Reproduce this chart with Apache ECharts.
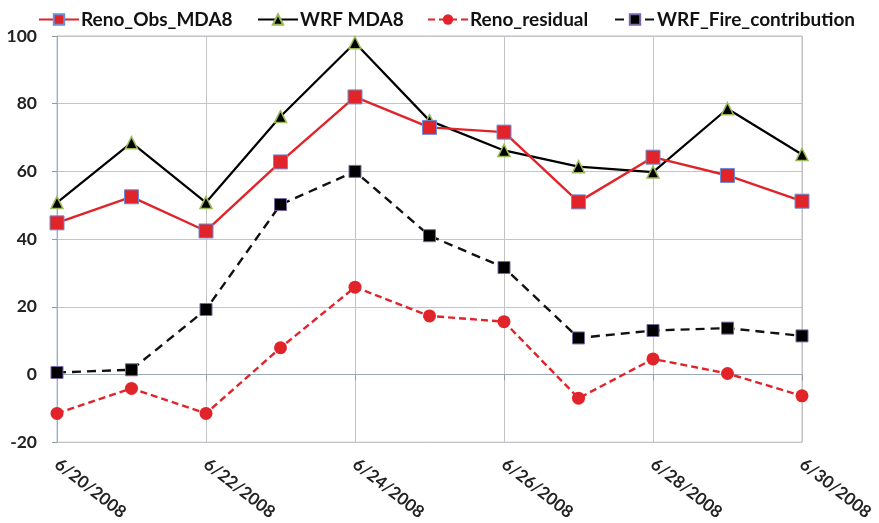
<!DOCTYPE html>
<html><head><meta charset="utf-8">
<script src="https://cdn.jsdelivr.net/npm/echarts@6/dist/echarts.min.js"></script>
<style>html,body{margin:0;padding:0;background:#fff}#c{width:879px;height:523px}</style>
</head><body><div id="c"></div>
<script>
const dates = ['6/20/2008','6/21/2008','6/22/2008','6/23/2008','6/24/2008','6/25/2008','6/26/2008','6/27/2008','6/28/2008','6/29/2008','6/30/2008'];
const seriesNames = ['Reno_Obs_MDA8','WRF MDA8','Reno_residual','WRF_Fire_contribution'];
const renoObs = [44.8, 52.5, 42.4, 62.8, 82.0, 73.0, 71.6, 51.0, 64.2, 58.8, 51.2];
const wrfMda8 = [50.8, 68.5, 50.8, 76.2, 98.0, 75.0, 66.2, 61.4, 59.8, 78.5, 65.0];
const renoResidual = [-11.5, -4.1, -11.5, 7.9, 25.8, 17.3, 15.6, -7.0, 4.6, 0.3, -6.3];
const wrfFire = [0.6, 1.4, 19.2, 50.2, 60.0, 41.0, 31.6, 10.8, 13.0, 13.7, 11.4];

const FONT = 'Lato';
const legendLefts = [38, 257, 427, 614];
const chart = echarts.init(document.getElementById('c'));
chart.setOption({
  animation: false,
  legend: seriesNames.map((n, i) => ({
    top: 10, left: legendLefts[i], itemWidth: 40, itemHeight: 13, padding: 0,
    textStyle: {fontFamily: FONT, fontWeight: 'bold', fontSize: 19, color: '#111', padding: [0, 0, 0, -3]},
    data: [n]
  })),
  grid: {left: 57, right: 77, top: 36, bottom: 80, show: true, borderColor: '#a9c3e3', borderWidth: 1},
  xAxis: {
    type: 'category', data: dates, boundaryGap: false,
    axisLine: {lineStyle: {color: '#9aa8b8', width: 1}},
    axisTick: {show: true, interval: 1, length: 6, lineStyle: {color: '#999'}},
    splitLine: {show: true, interval: 1, lineStyle: {color: '#c4c4c8', width: 1}},
    axisLabel: {interval: 1, rotate: -38, margin: 20, fontFamily: FONT, fontWeight: 'bold', fontSize: 17, color: '#222'}
  },
  yAxis: {
    type: 'value', min: -20, max: 100, interval: 20,
    axisLine: {show: true, lineStyle: {color: '#aaaaaa'}},
    axisTick: {show: true, length: 5, lineStyle: {color: '#999'}},
    splitLine: {lineStyle: {color: '#c4c4c8'}},
    axisLabel: {margin: 20, fontFamily: FONT, fontWeight: 'bold', fontSize: 17.5, color: '#222'}
  },
  series: [
    {name: seriesNames[3], type: 'line', data: wrfFire, symbol: 'rect', symbolSize: 12,
     lineStyle: {color: '#111', width: 2.4, type: [9, 6]},
     itemStyle: {color: '#000', borderColor: '#7b68a6', borderWidth: 1}},
    {name: seriesNames[2], type: 'line', data: renoResidual, symbol: 'circle', symbolSize: 13,
     lineStyle: {color: '#e0242a', width: 2.4, type: [7, 4]},
     itemStyle: {color: '#e0242a', borderColor: '#e0242a', borderWidth: 0}},
    {name: seriesNames[1], type: 'line', data: wrfMda8, symbol: 'triangle', symbolSize: 12,
     lineStyle: {color: '#000', width: 2.2},
     itemStyle: {color: '#000', borderColor: '#9bbb59', borderWidth: 1.5}},
    {name: seriesNames[0], type: 'line', data: renoObs, symbol: 'rect', symbolSize: 14,
     lineStyle: {color: '#e0242a', width: 2.4},
     itemStyle: {color: '#e0242a', borderColor: '#6b8fd6', borderWidth: 1}}
  ]
});
</script></body></html>
